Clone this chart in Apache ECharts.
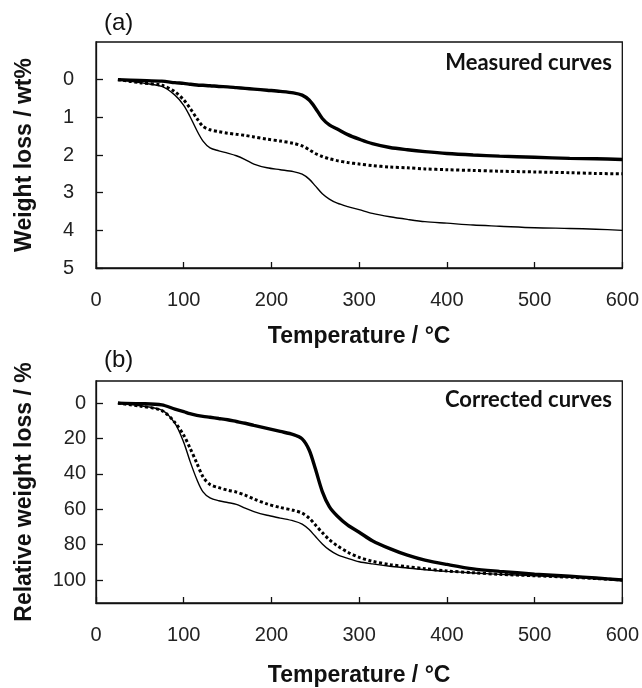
<!DOCTYPE html>
<html>
<head>
<meta charset="utf-8">
<script src="https://cdn.jsdelivr.net/npm/echarts@6/dist/echarts.min.js"></script>
<style>
  html, body { margin: 0; padding: 0; background: #fff; }
  #chart { width: 642px; height: 688px; }
</style>
</head>
<body>
<div id="chart"></div>
<script>
'use strict';

// temperature grid (°C) shared by every curve
var temps = [25, 50, 75, 90, 100, 107, 115, 122, 130, 140, 150, 160, 170, 180, 195, 210, 225, 235, 243,
    250, 258, 266, 275, 287, 300, 315, 335, 355, 375, 400, 430, 460, 500, 540, 570, 600];

// (a) measured curves, weight loss / wt%
var measuredThick = [0.00, 0.02, 0.04, 0.08, 0.10, 0.12, 0.14, 0.15, 0.16, 0.18, 0.19, 0.21, 0.23, 0.25, 0.28, 0.31, 0.35, 0.41, 0.54,
    0.75, 1.03, 1.20, 1.31, 1.46, 1.58, 1.70, 1.80, 1.86, 1.91, 1.96, 2.00, 2.03, 2.06, 2.09, 2.10, 2.12];
var measuredDotted = [0.00, 0.08, 0.15, 0.32, 0.54, 0.75, 1.03, 1.24, 1.33, 1.38, 1.42, 1.45, 1.48, 1.52, 1.58, 1.63, 1.69, 1.76, 1.86,
    1.96, 2.04, 2.10, 2.15, 2.20, 2.24, 2.28, 2.32, 2.34, 2.37, 2.39, 2.41, 2.43, 2.45, 2.47, 2.49, 2.50];
var measuredThin = [0.00, 0.08, 0.18, 0.41, 0.68, 0.97, 1.35, 1.63, 1.81, 1.89, 1.95, 2.02, 2.12, 2.24, 2.34, 2.39, 2.44, 2.51, 2.64,
    2.82, 3.03, 3.17, 3.28, 3.37, 3.45, 3.55, 3.64, 3.71, 3.77, 3.81, 3.86, 3.89, 3.93, 3.95, 3.97, 4.00];

// (b) corrected curves, relative weight loss / %
var correctedThick = [0, 0.3, 1.0, 3.4, 4.8, 6.0, 6.9, 7.5, 8.0, 8.7, 9.4, 10.4, 11.4, 12.6, 14.3, 16.0, 17.8, 20.2, 26.5,
    37, 50, 58.5, 63.8, 69, 73, 77.8, 82.3, 86, 88.8, 91.2, 93.7, 95.1, 96.7, 97.9, 98.9, 100];
var correctedDotted = [0, 1.7, 4.2, 11, 18.2, 25.2, 34, 41.7, 46, 47.8, 49.2, 50.3, 52, 54.2, 57, 59, 60.6, 62.2, 65,
    68.8, 73.2, 77.2, 80.6, 84.3, 87.2, 89.4, 91.3, 92.5, 93.6, 94.9, 95.9, 96.8, 97.6, 98.4, 99.2, 100];
var correctedThin = [0, 1.5, 4.0, 11.5, 22.2, 32.6, 43.2, 50.2, 53.6, 55.2, 56.2, 57.2, 59.4, 61.3, 63.4, 65, 66.6, 68.4, 71.5,
    75.3, 79.6, 83, 85.7, 87.8, 89.7, 90.9, 92.2, 93.2, 94.2, 95.1, 96, 96.8, 97.6, 98.4, 99.2, 100];

var xTicks = [0, 100, 200, 300, 400, 500, 600];
var yTicksA = [0, 1, 2, 3, 4, 5];
var yTicksB = [0, 20, 40, 60, 80, 100];

var FONT = 'Liberation Sans, Arial, sans-serif';

function pairs(ys) {
    var out = [];
    for (var i = 0; i < temps.length; i++) {
        out.push([temps[i], ys[i]]);
    }
    return out;
}

function xAxisFor(gridIndex, gap) {
    return {
        type: 'value',
        gridIndex: gridIndex,
        min: 0,
        max: 600,
        interval: 100,
        name: 'Temperature / °C',
        nameLocation: 'middle',
        nameGap: gap,
        nameTextStyle: { fontFamily: FONT, fontWeight: 'bold', fontSize: 23, color: '#111' },
        axisLine: { show: true, onZero: false, lineStyle: { color: '#111', width: 1.3 } },
        axisTick: { show: true, inside: true, length: 6, customValues: xTicks, lineStyle: { color: '#111', width: 1.3 } },
        axisLabel: { fontFamily: FONT, fontSize: 20, color: '#222', margin: 22, customValues: xTicks },
        splitLine: { show: false }
    };
}

function yAxisFor(gridIndex, min, max, ticks, name, labelGap) {
    return {
        type: 'value',
        gridIndex: gridIndex,
        inverse: true,
        min: min,
        max: max,
        name: name,
        nameLocation: 'middle',
        nameRotate: 90,
        nameGap: 60,
        nameTextStyle: { fontFamily: FONT, fontWeight: 'bold', fontSize: 23, color: '#111' },
        axisLine: { show: true, onZero: false, lineStyle: { color: '#111', width: 1.3 } },
        axisTick: { show: true, inside: true, length: 7, customValues: ticks, lineStyle: { color: '#111', width: 1.3 } },
        axisLabel: { fontFamily: FONT, fontSize: 20, color: '#222', margin: labelGap, customValues: ticks },
        splitLine: { show: false }
    };
}

function curve(name, x, y, data, kind) {
    var style = { color: '#000', width: 1.4, type: 'solid' };
    if (kind === 'thick') style = { color: '#000', width: 3.4, type: 'solid' };
    if (kind === 'dotted') style = { color: '#000', width: 3, type: [3, 2.5] };
    return {
        name: name,
        type: 'line',
        xAxisIndex: x,
        yAxisIndex: y,
        data: pairs(data),
        smooth: 0.3,
        showSymbol: false,
        silent: true,
        lineStyle: style
    };
}

var chart = echarts.init(document.getElementById('chart'), null, { renderer: 'canvas' });

var option = {
    animation: false,
    backgroundColor: '#fff',
    grid: [
        { left: 96, right: 19, top: 42, height: 226, show: true, borderColor: '#111', borderWidth: 1.3, backgroundColor: 'transparent' },
        { left: 96, right: 19, top: 381, height: 225, show: true, borderColor: '#111', borderWidth: 1.3, backgroundColor: 'transparent' }
    ],
    xAxis: [xAxisFor(0, 57), xAxisFor(1, 61)],
    yAxis: [
        yAxisFor(0, -1, 5, yTicksA, 'Weight loss / wt%', 22),
        yAxisFor(1, -12.5, 113, yTicksB, 'Relative weight loss / %', 10)
    ],
    series: [
        curve('measured thick', 0, 0, measuredThick, 'thick'),
        curve('measured dotted', 0, 0, measuredDotted, 'dotted'),
        curve('measured thin', 0, 0, measuredThin, 'thin'),
        curve('corrected thick', 1, 1, correctedThick, 'thick'),
        curve('corrected dotted', 1, 1, correctedDotted, 'dotted'),
        curve('corrected thin', 1, 1, correctedThin, 'thin')
    ],
    graphic: [
        { type: 'text', left: 104, top: 11, style: { text: '(a)', fontFamily: FONT, fontSize: 24, fill: '#111' } },
        { type: 'text', left: 104, top: 348, style: { text: '(b)', fontFamily: FONT, fontSize: 24, fill: '#111' } },
        { type: 'text', right: 30, top: 52, style: { text: 'Measured curves', fontFamily: 'Lato, sans-serif', fontWeight: 'bold', fontSize: 22, fill: '#111' } },
        { type: 'text', right: 30, top: 389, style: { text: 'Corrected curves', fontFamily: 'Lato, sans-serif', fontWeight: 'bold', fontSize: 22, fill: '#111' } }
    ]
};

chart.setOption(option);
</script>
</body>
</html>
